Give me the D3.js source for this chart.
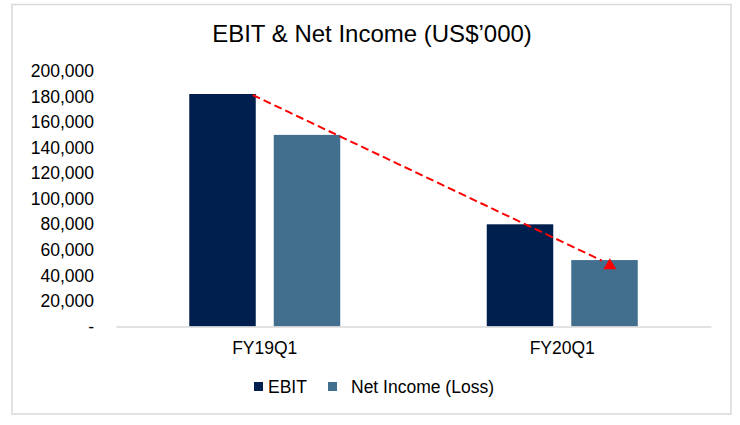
<!DOCTYPE html>
<html>
<head>
<meta charset="utf-8">
<script src="https://cdn.jsdelivr.net/npm/d3@7"></script>
<style>
  body { margin: 0; background: #fff; }
  svg { display: block; font-family: "Liberation Sans", Arial, sans-serif; }
</style>
</head>
<body>
<svg width="740" height="425"></svg>
<script>
"use strict";

// values (US$'000)
const categories = ["FY19Q1", "FY20Q1"];
const seriesNames = ["EBIT", "Net Income (Loss)"];
const ebit = [182000, 80000];
const netIncome = [150000, 52000];
const yTicks = [0, 20000, 40000, 60000, 80000, 100000, 120000, 140000, 160000, 180000, 200000];

const colors = ["#001f4f", "#426f8e"];
const rows = categories.map((c, i) => ({ cat: c, values: [ebit[i], netIncome[i]] }));

const svg = d3.select("svg");

// outer frame
svg.append("rect")
  .attr("x", 12).attr("y", 4.5)
  .attr("width", 719).attr("height", 409.5)
  .attr("fill", "none").attr("stroke", "#d9d9d9").attr("stroke-width", 1.5);

svg.append("text")
  .attr("x", 372).attr("y", 42)
  .attr("text-anchor", "middle")
  .attr("font-size", 24)
  .attr("fill", "#000")
  .text("EBIT & Net Income (US$\u2019000)");

const x0 = d3.scaleBand().domain(categories).range([116, 711]);
const x1 = d3.scaleBand().domain(seriesNames).range([0, x0.bandwidth()])
  .paddingInner(0.213).paddingOuter(0.867);
const y = d3.scaleLinear().domain([0, 200000]).range([326.5, 71]);

// y axis: labels only
const yAxis = d3.axisLeft(y)
  .tickValues(yTicks)
  .tickSize(0)
  .tickPadding(0)
  .tickFormat((d) => (d === 0 ? "-" : d3.format(",")(d)));

const yG = svg.append("g").attr("transform", "translate(94,0)").call(yAxis)
  .attr("font-family", null).attr("font-size", 17.5);
yG.select(".domain").remove();
yG.selectAll("text").attr("fill", "#000");

// bars
const groups = svg.selectAll("g.cat")
  .data(rows)
  .enter()
  .append("g")
  .attr("class", "cat")
  .attr("transform", (d) => `translate(${x0(d.cat)},0)`);

groups.selectAll("rect")
  .data((d) => d.values.map((v, i) => ({ name: seriesNames[i], v: v, i: i })))
  .enter()
  .append("rect")
  .attr("x", (d) => x1(d.name))
  .attr("y", (d) => y(d.v))
  .attr("width", x1.bandwidth())
  .attr("height", (d) => y(0) - y(d.v))
  .attr("fill", (d) => colors[d.i]);

// x axis baseline + labels
const xAxis = d3.axisBottom(x0).tickSize(0).tickPadding(15);
const xG = svg.append("g").attr("transform", `translate(0,${y(0)})`).call(xAxis)
  .attr("font-family", null).attr("font-size", 17.5);
xG.select(".domain").attr("stroke", "#d9d9d9").attr("stroke-width", 1.5);
xG.selectAll("text").attr("fill", "#000");

// dashed trend line EBIT FY19Q1 -> Net Income FY20Q1
const sx = x0(categories[0]) + x1(seriesNames[0]) + x1.bandwidth() - 3;
const sy = y(ebit[0]) + 1;
const ex = x0(categories[1]) + x1(seriesNames[1]) + x1.bandwidth() * 0.58;
const ey = y(netIncome[1]) + 4;

svg.append("line")
  .attr("x1", sx).attr("y1", sy)
  .attr("x2", ex - 8).attr("y2", ey - 3.5)
  .attr("stroke", "#ff0000")
  .attr("stroke-width", 2)
  .attr("stroke-dasharray", "8,4");

svg.append("path")
  .attr("d", d3.symbol().type(d3.symbolTriangle).size(72)())
  .attr("transform", `translate(${ex},${ey + 1.5})`)
  .attr("fill", "#ff0000");

// legend
const legend = svg.append("g").attr("transform", "translate(254,382)");
const legendX = [0, 74];
const textX = [14, 97];
seriesNames.forEach((name, i) => {
  legend.append("rect")
    .attr("x", legendX[i]).attr("y", 0)
    .attr("width", 9).attr("height", 9)
    .attr("fill", colors[i]);
  legend.append("text")
    .attr("x", textX[i]).attr("y", 10.5)
    .attr("font-size", 17.5)
    .attr("fill", "#000")
    .text(name);
});
</script>
</body>
</html>
